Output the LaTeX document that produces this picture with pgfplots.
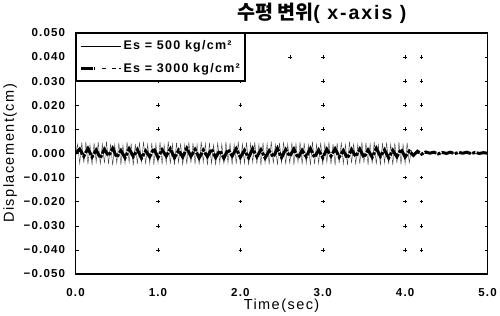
\documentclass[border=0pt]{standalone}
\usepackage{pgfplots}
\pgfplotsset{compat=1.18}
\usepackage{fontspec}
\setmainfont{Liberation Sans}[LetterSpace=10]
\newfontfamily\kr{Noto Sans CJK KR}
\begin{document}
\begin{tikzpicture}[x=1bp,y=1bp]
\begin{axis}[
  scale only axis,
  width=410bp, height=240bp,
  xmin=0, xmax=200, ymin=-50, ymax=50,
  xtick={0,40,80,120,160,200},
  xticklabels={0.0,1.0,2.0,3.0,4.0,5.0},
  ytick={-50,-40,-30,-20,-10,0,10,20,30,40,50},
  yticklabels={−0.050,−0.040,−0.030,−0.020,−0.010,0.000,0.010,0.020,0.030,0.040,0.050},
  xtick style={draw=none},
  ytick style={black, line width=0.4pt},
  major tick length=3bp,
  tick align=inside,
  ticklabel style={font=\bfseries\fontsize{11.5}{13}\selectfont},
  yticklabel style={xshift=-7bp},
  xticklabel style={yshift=-11bp},
  axis line style={line width=1.6bp},
  xlabel={Time(sec)},
  ylabel={Displacement(cm)},
  label style={font=\fontsize{14.5}{16}\selectfont},
  xlabel style={yshift=5bp},
  ylabel style={yshift=0bp},
  title={{\kr\bfseries 수평 변위}\textbf{( x-axis )}},
  title style={font=\fontsize{19.5}{21}\selectfont, at={(0.6,1)}, anchor=base, yshift=7bp},
  legend cell align=left,
  legend style={at={(0,1)}, anchor=north west, draw=black, line width=1.6bp,
     font=\bfseries\fontsize{12.5}{14}\selectfont, inner xsep=3bp, inner ysep=5bp, row sep=8bp,
     fill=white},
  clip=true,
]
% grid cross marks
\addplot[only marks, mark=+, mark size=1.8bp, line width=0.3pt, forget plot] coordinates {
(40,10)(80,10)(120,10)(160,10)(168,10)
(40,20)(80,20)(120,20)(160,20)(168,20)
(40,30)(80,30)(120,30)(160,30)(168,30)
(40,40)(80,40)(120,40)(160,40)(168,40)(104,40)
(40,-10)(80,-10)(120,-10)(160,-10)(168,-10)
(40,-20)(80,-20)(120,-20)(160,-20)(168,-20)
(40,-30)(80,-30)(120,-30)(160,-30)(168,-30)
(40,-40)(80,-40)(120,-40)(160,-40)(168,-40)
};
\addplot[black!75, line width=0.4bp,
  legend image code/.code={\draw[black, line width=0.5bp] (0bp,0bp) -- (40bp,0bp);}]
coordinates {
(0,0)(1,3.8)(2,-4.2)(3,4.6)(4,-3.9)(5,4.9)(6,-4.5)(7,3.6)(8,-4.8)(9,4.4)
(10,-3.7)(11,4.7)(12,-4.6)(13,3.9)(14,-4.1)(15,5.0)(16,-4.4)(17,4.1)(18,-4.9)(19,3.7)
(20,-4.0)(21,4.5)(22,-4.7)(23,3.5)(24,-4.3)(25,4.8)(26,-3.8)(27,4.2)(28,-5.0)(29,3.9)
(30,-4.4)(31,4.6)(32,-3.6)(33,4.9)(34,-4.5)(35,3.8)(36,-4.2)(37,4.4)(38,-4.8)(39,4.0)
(40,-3.9)(41,4.7)(42,-4.6)(43,3.6)(44,-4.1)(45,5.0)(46,-4.3)(47,3.9)(48,-4.7)(49,4.5)
(50,-3.8)(51,4.2)(52,-4.9)(53,3.7)(54,-4.4)(55,4.8)(56,-4.0)(57,4.3)(58,-4.5)(59,3.8)
(60,-4.6)(61,4.9)(62,-3.7)(63,4.1)(64,-4.8)(65,4.4)(66,-4.2)(67,3.6)(68,-4.9)(69,4.6)
(70,-4.0)(71,4.0)(72,-4.5)(73,4.8)(74,-3.9)(75,4.3)(76,-4.7)(77,3.7)(78,-4.3)(79,4.9)
(80,-4.6)(81,3.9)(82,-4.1)(83,4.6)(84,-4.8)(85,4.2)(86,-3.8)(87,4.7)(88,-4.4)(89,3.8)
(90,-4.9)(91,4.5)(92,-4.0)(93,4.1)(94,-4.6)(95,5.0)(96,-4.2)(97,3.7)(98,-4.7)(99,4.4)
(100,-3.9)(101,4.8)(102,-4.5)(103,3.9)(104,-4.3)(105,4.6)(106,-4.8)(107,4.0)(108,-3.7)(109,4.7)
(110,-4.6)(111,4.3)(112,-4.1)(113,3.6)(114,-4.9)(115,4.9)(116,-4.4)(117,3.8)(118,-4.2)(119,4.5)
(120,-4.7)(121,4.1)(122,-3.8)(123,4.8)(124,-4.5)(125,3.9)(126,-4.9)(127,4.4)(128,-4.0)(129,4.6)
(130,-4.3)(131,3.7)(132,-4.8)(133,4.9)(134,-4.1)(135,4.2)(136,-4.6)(137,3.8)(138,-4.4)(139,4.7)
(140,-3.9)(141,4.5)(142,-4.7)(143,4.0)(144,-4.2)(145,4.8)(146,-4.5)(147,3.6)(148,-4.9)(149,4.3)
(150,-4.0)(151,4.6)(152,-4.4)(153,3.9)(154,-4.8)(155,4.4)(156,-4.1)(157,4.7)(158,-4.6)(159,3.8)
(160,-4.3)(161,4.5)(162,-3.9)(163,1.2)(164,-0.6)(165,0.3)(166,0)(200,0)
};
\addlegendentry{Es = 500 kg/cm²}
\addplot[black, line width=3bp, dash pattern=on 12bp off 1.5bp on 3bp off 1.5bp,
  legend image code/.code={\draw[black, line width=2.6bp] (0bp,0bp) -- (14bp,0bp);
     \draw[black, line width=1.4bp] (21bp,0bp) -- (25bp,0bp);
     \draw[black, line width=1.4bp] (31bp,0bp) -- (35bp,0bp);
     \draw[black, line width=1.4bp] (38bp,0bp) -- (40bp,0bp);}]
coordinates {
(0,0)(2,1.8)(4,-1.2)(6,2.0)(8,-1.5)(10,1.4)(12,-1.9)(14,1.7)(16,-1.0)(18,2.1)
(20,-1.6)(22,1.2)(24,-1.8)(26,1.9)(28,-1.3)(30,1.6)(32,-2.0)(34,1.1)(36,-1.4)(38,2.0)
(40,-1.7)(42,1.5)(44,-1.1)(46,1.9)(48,-1.8)(50,1.3)(52,-1.5)(54,2.1)(56,-1.2)(58,1.6)
(60,-1.9)(62,1.4)(64,-1.3)(66,1.8)(68,-1.7)(70,1.2)(72,-2.0)(74,1.7)(76,-1.1)(78,1.9)
(80,-1.6)(82,1.3)(84,-1.8)(86,2.0)(88,-1.4)(90,1.5)(92,-1.9)(94,1.1)(96,-1.5)(98,2.1)
(100,-1.7)(102,1.6)(104,-1.2)(106,1.8)(108,-1.9)(110,1.3)(112,-1.4)(114,2.0)(116,-1.6)(118,1.4)
(120,-1.8)(122,1.7)(124,-1.1)(126,1.9)(128,-1.5)(130,1.2)(132,-2.0)(134,1.6)(136,-1.3)(138,1.8)
(140,-1.7)(142,1.4)(144,-1.6)(146,2.1)(148,-1.2)(150,1.5)(152,-1.9)(154,1.3)(156,-1.4)(158,1.8)
(160,-1.5)(162,1.0)(164,-0.8)(166,0.9)(168,-0.3)(170,0.6)(172,0.1)(174,0.5)(176,-0.2)(178,0.4)
(180,0)(182,0.5)(184,-0.1)(186,0.4)(188,0.1)(190,0.5)(192,-0.1)(194,0.4)(196,0)(198,0.3)(200,0.1)
};
\addlegendentry{Es = 3000 kg/cm²}
\end{axis}
\end{tikzpicture}
\end{document}
